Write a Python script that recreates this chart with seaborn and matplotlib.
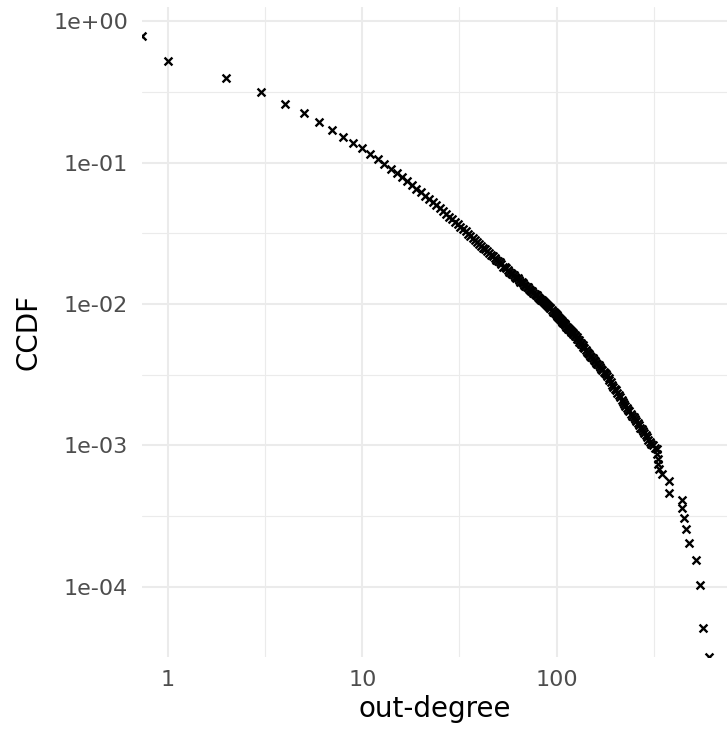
import matplotlib
matplotlib.use("Agg")
import matplotlib.pyplot as plt
import matplotlib.ticker as mticker
import seaborn as sns
import pandas as pd

# ---- data ----
degree = [0.735, 1, 2, 3, 4, 5, 6, 7, 8, 9, 10,
          11, 12, 13, 14, 15, 16, 17, 18, 19, 20,
          21, 22, 23, 24, 25, 26, 27, 28, 29, 30,
          31, 32, 33, 34, 35, 36, 37, 38, 39, 40,
          41, 42, 43, 44, 45, 46, 47, 48, 49, 50,
          51, 52, 53, 54, 55, 56, 57, 58, 59, 60,
          61, 62, 63, 64, 65, 66, 67, 68, 69, 70,
          71, 72, 73, 74, 75, 76, 77, 78, 79, 80,
          81, 82, 83, 84, 85, 86, 87, 88, 89, 90,
          91, 92, 93, 95, 96, 97, 98, 99, 100, 101,
          102, 103, 104, 105, 106, 107, 108, 109, 110, 111,
          112, 113, 114, 115, 116, 117, 118, 119, 120, 121,
          122, 124, 125, 127, 128, 130, 131, 133, 134, 136,
          137, 139, 141, 143, 145, 147, 149, 151, 153, 155,
          157, 160, 162, 165, 167, 170, 172, 175, 177, 180,
          182, 185, 187, 190, 193, 196, 199, 202, 205, 209,
          212, 216, 219, 223, 226, 230, 233, 237, 241, 245,
          249, 253, 257, 261, 265, 270, 274, 279, 283, 288,
          292, 297, 302, 307, 312, 320, 327, 329, 331, 334,
          337, 347, 380, 380, 440, 444, 451, 462, 482, 520,
          545, 569, 609]
ccdf = [0.783, 0.521, 0.393, 0.313, 0.258, 0.224, 0.193, 0.169, 0.152, 0.1375, 0.126,
        0.115, 0.1057, 0.0975, 0.0906, 0.0844, 0.0788, 0.0740, 0.0695, 0.0654, 0.0617,
        0.0583, 0.0552, 0.0524, 0.0498, 0.0474, 0.0452, 0.0432, 0.0413, 0.0396, 0.0380,
        0.0366, 0.0352, 0.0338, 0.0326, 0.0314, 0.0303, 0.0293, 0.0283, 0.0274, 0.0265,
        0.0258, 0.0250, 0.0243, 0.0236, 0.0229, 0.0223, 0.0217, 0.0211, 0.0206, 0.0200,
        0.0199, 0.0191, 0.0184, 0.0182, 0.0180, 0.0174, 0.0168, 0.0166, 0.0164, 0.0159,
        0.0154, 0.0153, 0.0152, 0.0147, 0.0143, 0.0142, 0.0141, 0.0137, 0.0133, 0.0132,
        0.0131, 0.0128, 0.0125, 0.0124, 0.0123, 0.0120, 0.0117, 0.0116, 0.0115, 0.0112,
        0.0111, 0.0109, 0.0107, 0.0106, 0.0105, 0.0103, 0.0101, 0.0100, 0.0099, 0.00973,
        0.0096, 0.00944, 0.00935, 0.00902, 0.00885, 0.00880, 0.00859, 0.00845, 0.00830, 0.00822,
        0.00810, 0.00790, 0.00783, 0.00770, 0.00760, 0.00748, 0.00730, 0.00730, 0.00718, 0.00710,
        0.00690, 0.00689, 0.00680, 0.00670, 0.00661, 0.00650, 0.00640, 0.00637, 0.00630, 0.00620,
        0.00614, 0.00600, 0.00592, 0.00580, 0.00568, 0.00560, 0.00543, 0.00530, 0.00521, 0.00510,
        0.00500, 0.00490, 0.00474, 0.00460, 0.00450, 0.00440, 0.00429, 0.00420, 0.00412, 0.00400,
        0.00396, 0.00385, 0.00376, 0.00370, 0.00357, 0.00350, 0.00340, 0.00330, 0.00324, 0.00320,
        0.00308, 0.00300, 0.00290, 0.00280, 0.00269, 0.00260, 0.00252, 0.00245, 0.00235, 0.00228,
        0.00219, 0.00210, 0.00203, 0.00198, 0.00191, 0.00184, 0.00179, 0.00174, 0.00168, 0.00162,
        0.00158, 0.00154, 0.00149, 0.00145, 0.00140, 0.00134, 0.00130, 0.00126, 0.00122, 0.00118,
        0.00114, 0.00110, 0.00106, 0.00103, 0.00100, 0.00096, 0.000944, 0.000871, 0.000802, 0.000739,
        0.000681, 0.000628, 0.000562, 0.000465, 0.000411, 0.000360, 0.000306, 0.000256, 0.000204, 0.000154,
        0.000103, 0.000051, 0.0000320]

x_ticks = [1, 10, 100]
x_tick_labels = ["1", "10", "100"]
y_ticks = [1e-4, 1e-3, 1e-2, 1e-1, 1e0]
y_tick_labels = ["1e-04", "1e-03", "1e-02", "1e-01", "1e+00"]
x_minor = [3.1623, 31.623, 316.23]
y_minor = [0.31623, 0.031623, 0.0031623, 0.00031623]

df = pd.DataFrame({"out-degree": degree, "CCDF": ccdf})

sns.set_theme(style="white")
plt.rcParams["font.family"] = ["DejaVu Sans"]

fig = plt.figure(figsize=(7.27, 7.32), dpi=100)
ax = fig.add_axes([142 / 727, 75 / 732, 585 / 727, 650 / 732])

sns.scatterplot(data=df, x="out-degree", y="CCDF", marker="x", color="black",
                s=32, linewidth=1.7, ax=ax, zorder=3)

ax.set_xscale("log")
ax.set_yscale("log")
ax.set_xlim(0.735, 753)
ax.set_ylim(3.2e-5, 1.256)

ax.xaxis.set_major_locator(mticker.FixedLocator(x_ticks))
ax.xaxis.set_major_formatter(mticker.FixedFormatter(x_tick_labels))
ax.xaxis.set_minor_locator(mticker.FixedLocator(x_minor))
ax.xaxis.set_minor_formatter(mticker.NullFormatter())
ax.yaxis.set_major_locator(mticker.FixedLocator(y_ticks))
ax.yaxis.set_major_formatter(mticker.FixedFormatter(y_tick_labels))
ax.yaxis.set_minor_locator(mticker.FixedLocator(y_minor))
ax.yaxis.set_minor_formatter(mticker.NullFormatter())

ax.grid(True, which="major", color="#EBEBEB", linewidth=1.5, zorder=0)
ax.grid(True, which="minor", color="#EBEBEB", linewidth=0.8, zorder=0)
ax.set_axisbelow(True)
for sp in ax.spines.values():
    sp.set_visible(False)

ax.tick_params(axis="both", which="both", length=0, labelsize=16, labelcolor="#4D4D4D")
ax.tick_params(axis="y", pad=10)
ax.tick_params(axis="x", pad=9)

ax.set_xlabel("out-degree", fontsize=20, color="black", labelpad=4)
ax.set_ylabel("CCDF", fontsize=20, color="black", labelpad=8)

fig.savefig("out.png", dpi=100)
